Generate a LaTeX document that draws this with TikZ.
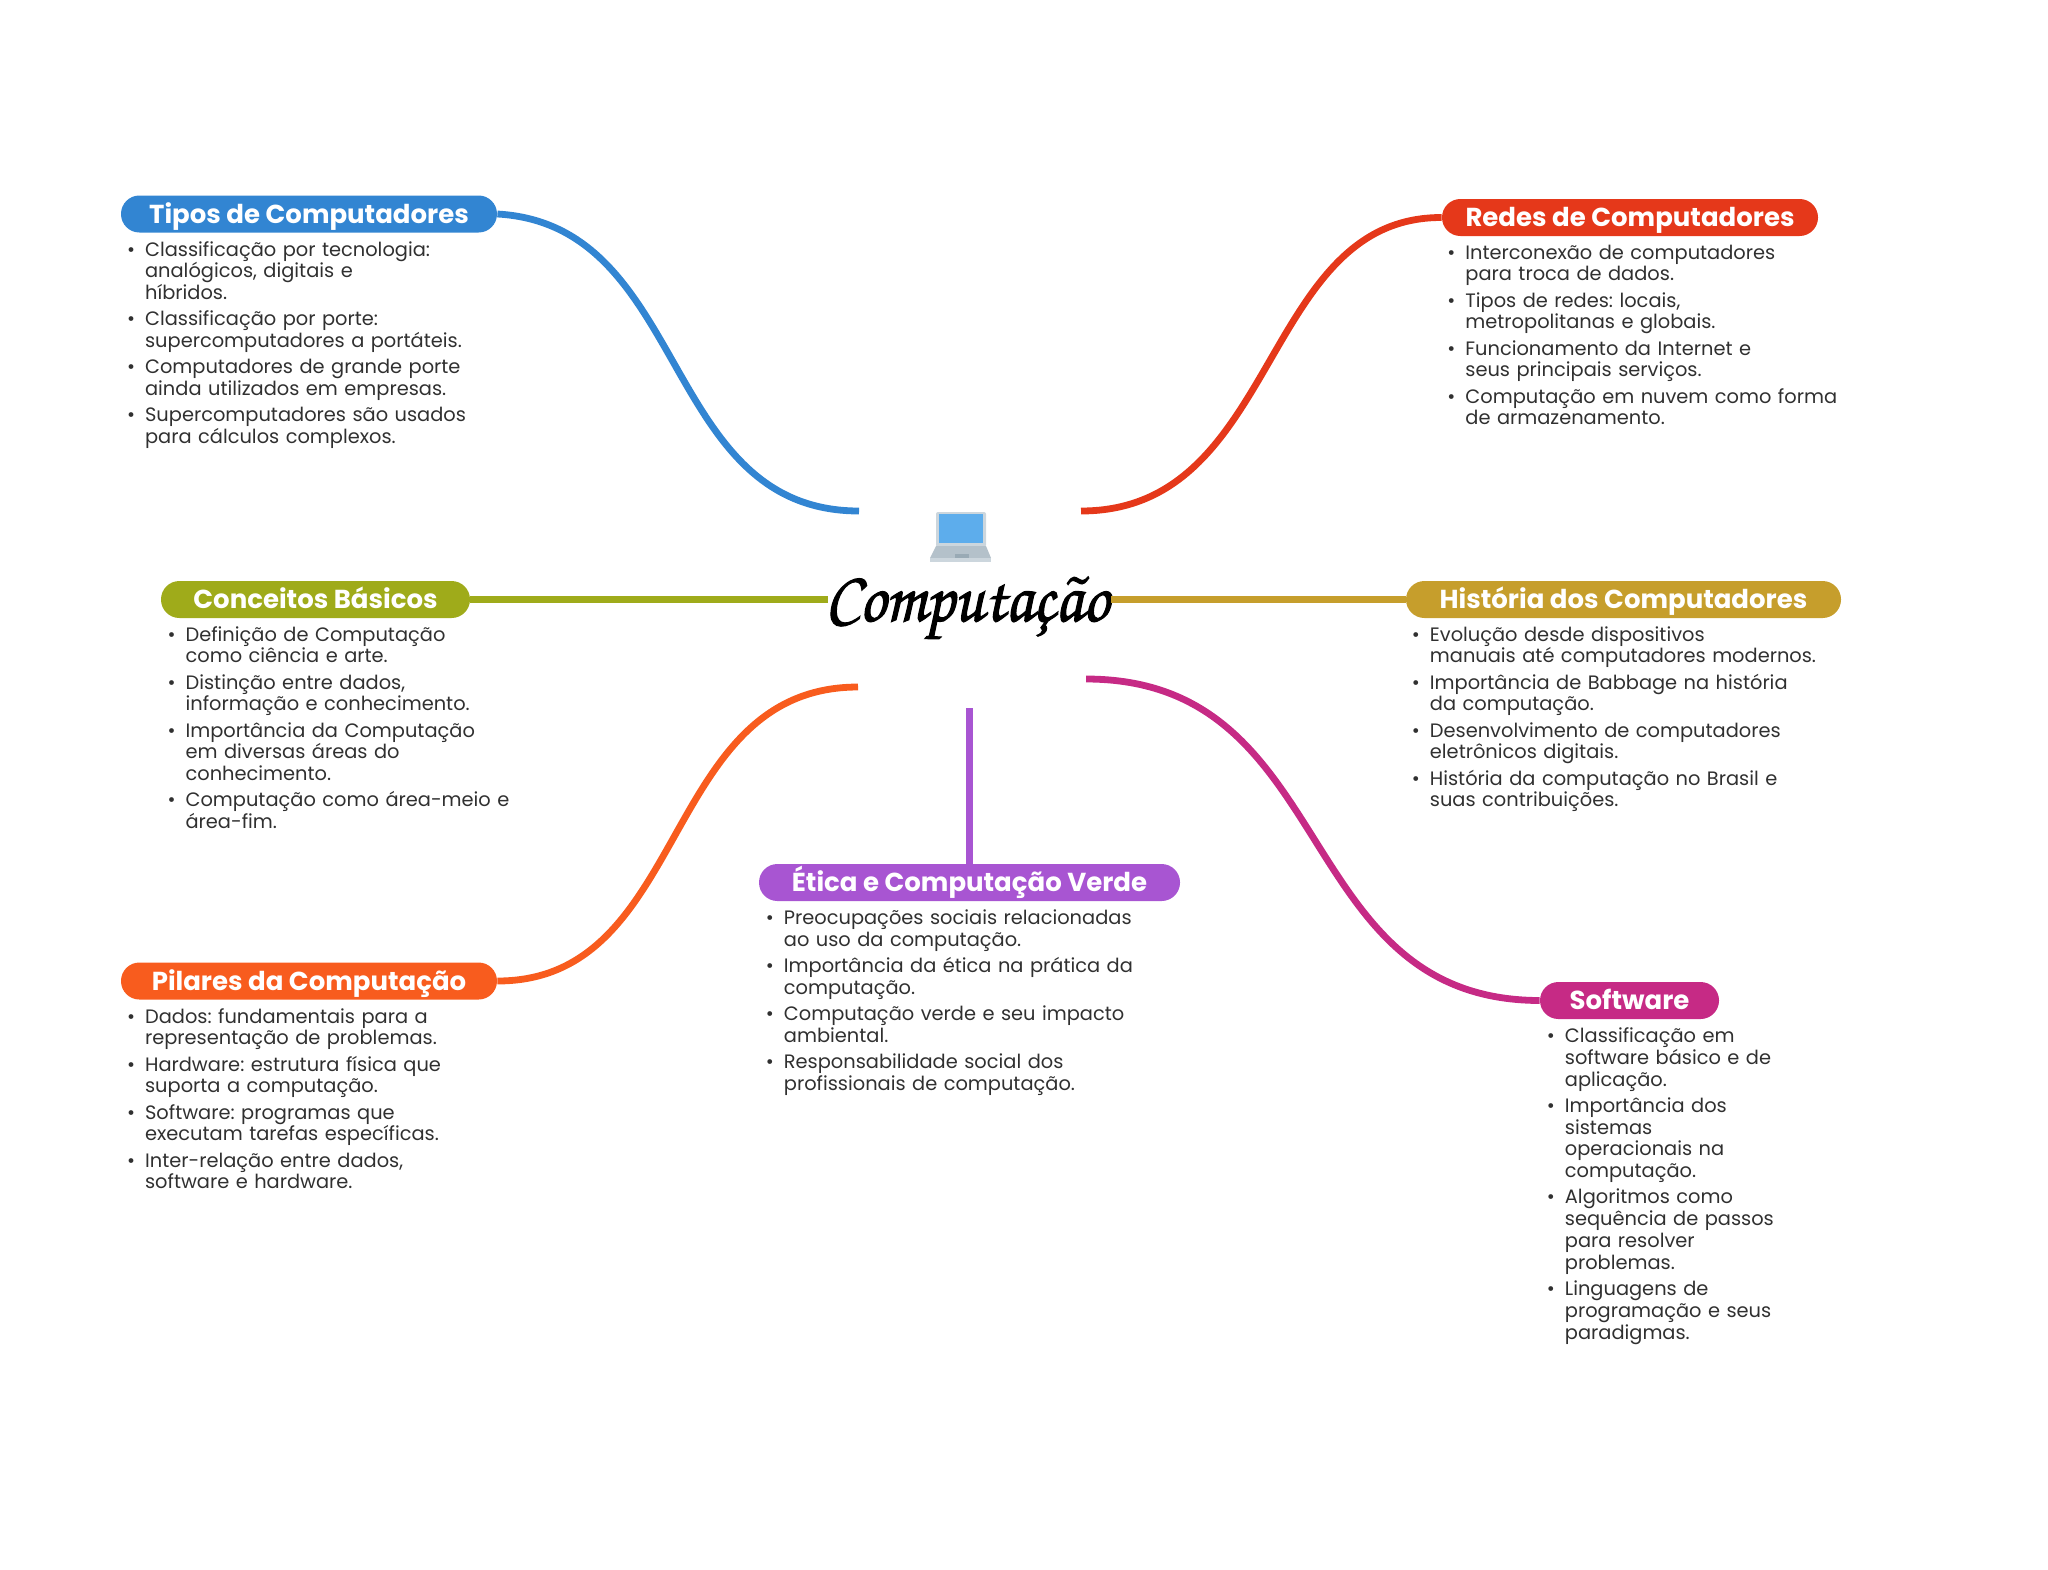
\documentclass[tikz,border=0pt]{standalone}
\usepackage{fontspec}
\setmainfont{Poppins}
\newfontfamily\titlefont[FakeBold=1.5,FakeStretch=0.91]{TeX Gyre Chorus}
\definecolor{tiposblue}{HTML}{3285D2}
\definecolor{redesred}{HTML}{E5381A}
\definecolor{conceitosolive}{HTML}{9FAB1A}
\definecolor{historiagold}{HTML}{C69E2C}
\definecolor{pilaresorange}{HTML}{F85C1E}
\definecolor{eticapurple}{HTML}{A855D2}
\definecolor{softwarepink}{HTML}{C62A85}
\definecolor{listgrey}{HTML}{303030}
\definecolor{bezelgrey}{HTML}{CCD6DD}
\definecolor{basegrey}{HTML}{B4C1CA}
\definecolor{keygrey}{HTML}{99AAB5}
\definecolor{screenblue}{HTML}{5DADEC}
\newcommand{\bitem}{\leavevmode\llap{\textbullet\hspace{5pt}}}
\tikzset{
  pill/.style={fill=#1, text=white, rounded corners=9.2pt, inner xsep=0pt, inner ysep=0pt, minimum height=18.5pt, text height=11pt, text depth=2pt, font=\fontsize{13}{15}\selectfont\bfseries},
  branch/.style={draw=#1, line width=3.4pt},
  itemlist/.style={anchor=base west, inner sep=0pt, text width=220pt, align=left, text=listgrey, font=\fontsize{9.7}{10.9}\selectfont\frenchspacing}
}
\begin{document}
\begin{tikzpicture}[x=0.5pt, y=-0.5pt]
\useasboundingbox (0,0) rectangle (2048,1569);

\node[font=\titlefont\fontsize{36}{40}\selectfont, inner sep=0pt, anchor=base] (Computacao) at (967,621) {Computação};

\fill[bezelgrey, rounded corners=1pt] (936,512) rectangle (986,547);
\fill[screenblue] (939,514) rectangle (983,543);
\fill[basegrey] (936,546) -- (986,546) -- (991,558) -- (930,558) -- cycle;
\fill[bezelgrey] (930,558) rectangle (991,562);
\fill[keygrey] (955,554) rectangle (969,558);

\coordinate (tiposend) at (859,511);
\coordinate (redesend) at (1081,511);
\coordinate (conceitosend) at (828,599.5);
\coordinate (historiaend) at (1111,599.5);
\coordinate (pilaresend) at (858,687);
\coordinate (softwareend) at (1086,679);
\coordinate (eticaend) at (969.5,708);

\node[pill=tiposblue, minimum width=188pt] (Tipos) at (309,214) {Tipos de Computadores};
\node[pill=redesred, minimum width=188pt] (Redes) at (1630,217.5) {Redes de Computadores};
\node[pill=conceitosolive, minimum width=154.5pt] (Conceitos) at (315.5,599.5) {Conceitos Básicos};
\node[pill=historiagold, minimum width=217.5pt] (Historia) at (1623.5,599.5) {História dos Computadores};
\node[pill=pilaresorange, minimum width=188pt] (Pilares) at (309,981) {Pilares da Computação};
\node[pill=eticapurple, minimum width=210.5pt] (Etica) at (969.5,882.5) {Ética e Computação Verde};
\node[pill=softwarepink, minimum width=89.5pt] (Software) at (1629.5,1000.5) {Software};

\draw[branch=tiposblue] (Tipos.east) .. controls (690,225) and (660,511) .. (tiposend);
\draw[branch=redesred] (Redes.west) .. controls (1260,217) and (1280,511) .. (redesend);
\draw[branch=conceitosolive] (Conceitos.east) -- (conceitosend);
\draw[branch=historiagold] (historiaend) -- (Historia.west);
\draw[branch=pilaresorange] (Pilares.east) .. controls (690,981) and (660,687) .. (pilaresend);
\draw[branch=eticapurple] (eticaend) -- (Etica.north);
\draw[branch=softwarepink] (softwareend) .. controls (1340,679) and (1290,1000) .. (Software.west);

\node[itemlist] (TiposList) at (144.7,256) {\bitem Classificação por tecnologia:\\analógicos, digitais e\\híbridos.\\[2.2pt]
\bitem Classificação por porte:\\supercomputadores a portáteis.\\[2.2pt]
\bitem Computadores de grande porte\\ainda utilizados em empresas.\\[2.2pt]
\bitem Supercomputadores são usados\\para cálculos complexos.};
\node[itemlist] (RedesList) at (1465,259) {\bitem Interconexão de computadores\\para troca de dados.\\[2.2pt]
\bitem Tipos de redes: locais,\\metropolitanas e globais.\\[2.2pt]
\bitem Funcionamento da Internet e\\seus principais serviços.\\[2.2pt]
\bitem Computação em nuvem como forma\\de armazenamento.};
\node[itemlist] (ConceitosList) at (185.2,641) {\bitem Definição de Computação\\como ciência e arte.\\[2.2pt]
\bitem Distinção entre dados,\\informação e conhecimento.\\[2.2pt]
\bitem Importância da Computação\\em diversas áreas do\\conhecimento.\\[2.2pt]
\bitem Computação como área-meio e\\área-fim.};
\node[itemlist] (HistoriaList) at (1429.5,641) {\bitem Evolução desde dispositivos\\manuais até computadores modernos.\\[2.2pt]
\bitem Importância de Babbage na história\\da computação.\\[2.2pt]
\bitem Desenvolvimento de computadores\\eletrônicos digitais.\\[2.2pt]
\bitem História da computação no Brasil e\\suas contribuições.};
\node[itemlist] (PilaresList) at (144.7,1023) {\bitem Dados: fundamentais para a\\representação de problemas.\\[2.2pt]
\bitem Hardware: estrutura física que\\suporta a computação.\\[2.2pt]
\bitem Software: programas que\\executam tarefas específicas.\\[2.2pt]
\bitem Inter-relação entre dados,\\software e hardware.};
\node[itemlist] (EticaList) at (783.5,924.5) {\bitem Preocupações sociais relacionadas\\ao uso da computação.\\[2.2pt]
\bitem Importância da ética na prática da\\computação.\\[2.2pt]
\bitem Computação verde e seu impacto\\ambiental.\\[2.2pt]
\bitem Responsabilidade social dos\\profissionais de computação.};
\node[itemlist] (SoftwareList) at (1564.5,1042.5) {\bitem Classificação em\\software básico e de\\aplicação.\\[2.2pt]
\bitem Importância dos\\sistemas\\operacionais na\\computação.\\[2.2pt]
\bitem Algoritmos como\\sequência de passos\\para resolver\\problemas.\\[2.2pt]
\bitem Linguagens de\\programação e seus\\paradigmas.};
\end{tikzpicture}
\end{document}
